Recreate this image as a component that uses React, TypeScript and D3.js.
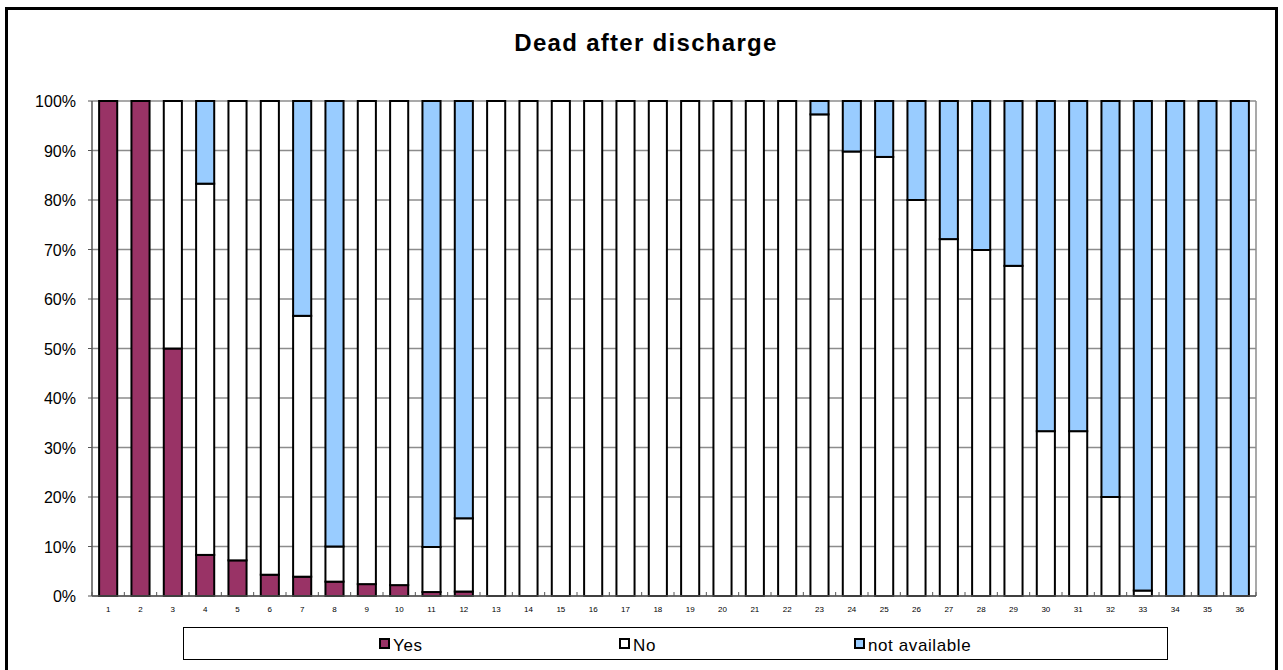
import React, { useEffect, useRef } from "react";
import * as d3 from "d3";

const categories = Array.from({ length: 36 }, (_, i) => String(i + 1));
const yesValues = [100, 100, 50, 8.3, 7.2, 4.3, 3.9, 2.9, 2.4, 2.2, 0.8, 0.9, 0, 0, 0, 0, 0, 0, 0, 0, 0, 0, 0, 0, 0, 0, 0, 0, 0, 0, 0, 0, 0, 0, 0, 0];
const noValues = [0, 0, 50, 75, 92.8, 95.7, 52.7, 7.1, 97.6, 97.8, 9.1, 14.8, 100, 100, 100, 100, 100, 100, 100, 100, 100, 100, 97.3, 89.8, 88.7, 80, 72.1, 69.9, 66.7, 33.3, 33.3, 20, 1.1, 0, 0, 0];
const naValues = [0, 0, 0, 16.7, 0, 0, 43.4, 90, 0, 0, 90.1, 84.3, 0, 0, 0, 0, 0, 0, 0, 0, 0, 0, 2.7, 10.2, 11.3, 20, 27.9, 30.1, 33.3, 66.7, 66.7, 80, 98.9, 100, 100, 100];
const yTicks = [0, 10, 20, 30, 40, 50, 60, 70, 80, 90, 100];
const seriesNames = ["Yes", "No", "not available"];
const seriesColors = ["#993366", "#FFFFFF", "#99CCFF"];
const title = "Dead after discharge";

export default function App() {
  const ref = useRef<SVGSVGElement>(null);
  useEffect(() => {
    document.body.style.margin = "0";
    const svg = d3.select(ref.current);
    svg.selectAll("*").remove();
    const W = 1283, H = 670;
    const left = 92, right = 1256, top = 101, bottom = 596;
    const font = "'Liberation Sans', Arial, sans-serif";

    svg.append("rect").attr("x", 0).attr("y", 0).attr("width", W).attr("height", H).attr("fill", "#fff");
    svg.append("rect").attr("x", 6.5).attr("y", 8.5).attr("width", 1270).attr("height", 700)
      .attr("fill", "#fff").attr("stroke", "#000").attr("stroke-width", 3);

    svg.append("text").attr("x", 646).attr("y", 51).attr("text-anchor", "middle")
      .attr("font-family", font).attr("font-size", 24).attr("font-weight", "bold")
      .attr("letter-spacing", 1.3).text(title);

    const x = d3.scaleBand().domain(categories).range([left, right]).paddingInner(0.44).paddingOuter(0.22);
    const y = d3.scaleLinear().domain([0, 100]).range([bottom, top]);

    // gridlines
    svg.append("g").selectAll("line").data(yTicks).join("line")
      .attr("x1", left).attr("x2", right).attr("y1", d => y(d)).attr("y2", d => y(d))
      .attr("stroke", "#8c8c8c").attr("stroke-width", 1.5);
    // plot frame
    svg.append("line").attr("x1", right).attr("x2", right).attr("y1", top).attr("y2", bottom).attr("stroke", "#8c8c8c").attr("stroke-width", 1.5);
    svg.append("line").attr("x1", left).attr("x2", left).attr("y1", top).attr("y2", bottom).attr("stroke", "#555").attr("stroke-width", 1.5);

    // y tick marks
    svg.append("g").selectAll("line").data(yTicks).join("line")
      .attr("x1", left - 4).attr("x2", left).attr("y1", d => y(d)).attr("y2", d => y(d))
      .attr("stroke", "#555").attr("stroke-width", 1);

    // y labels
    svg.append("g").selectAll("text").data(yTicks).join("text")
      .attr("x", 76).attr("y", d => y(d) + 6).attr("text-anchor", "end")
      .attr("font-family", font).attr("font-size", 16).text(d => d + "%");

    // bars
    const data = categories.map((c, i) => ({ c, vals: [yesValues[i], noValues[i], naValues[i]] }));
    const g = svg.append("g");
    data.forEach(d => {
      let acc = 0;
      d.vals.forEach((v, k) => {
        if (v <= 0) return;
        g.append("rect").attr("x", x(d.c)!).attr("width", x.bandwidth())
          .attr("y", y(acc + v)).attr("height", y(acc) - y(acc + v))
          .attr("fill", seriesColors[k]).attr("stroke", "#000").attr("stroke-width", 2);
        acc += v;
      });
    });

    // x axis baseline and ticks
    svg.append("line").attr("x1", left).attr("x2", right).attr("y1", bottom).attr("y2", bottom).attr("stroke", "#555").attr("stroke-width", 1.5);
    svg.append("g").selectAll("line").data(d3.range(37)).join("line")
      .attr("x1", i => left + i * (right - left) / 36).attr("x2", i => left + i * (right - left) / 36)
      .attr("y1", bottom).attr("y2", bottom - 4).attr("stroke", "#555").attr("stroke-width", 1);

    svg.append("g").selectAll("text").data(categories).join("text")
      .attr("x", d => x(d)! + x.bandwidth() / 2).attr("y", 612).attr("text-anchor", "middle")
      .attr("font-family", font).attr("font-size", 8).text(d => d);

    // legend
    svg.append("rect").attr("x", 183.5).attr("y", 627.5).attr("width", 984).attr("height", 32)
      .attr("fill", "#fff").attr("stroke", "#000").attr("stroke-width", 1);
    const legX = [380, 620, 855];
    seriesNames.forEach((n, k) => {
      svg.append("rect").attr("x", legX[k]).attr("y", 639).attr("width", 9).attr("height", 9)
        .attr("fill", seriesColors[k]).attr("stroke", "#000").attr("stroke-width", 2);
      svg.append("text").attr("x", legX[k] + 13).attr("y", 651).attr("font-family", font)
        .attr("font-size", 17).attr("letter-spacing", 0.6).text(n);
    });
  }, []);
  return <svg ref={ref} width={1283} height={670} style={{ display: "block" }} />;
}
